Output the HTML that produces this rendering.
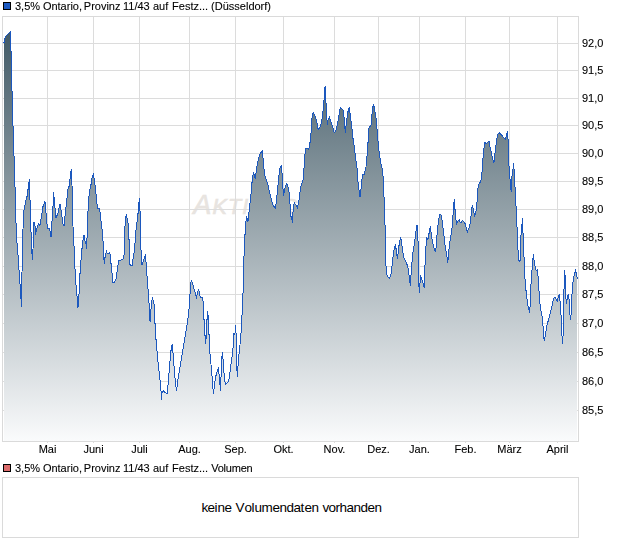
<!DOCTYPE html>
<html><head><meta charset="utf-8"><style>
html,body{margin:0;padding:0;background:#fff;width:620px;height:546px;overflow:hidden}
svg{display:block}
text{font-family:"Liberation Sans",Arial,sans-serif;font-size:11px;fill:#000}
.lb text{stroke:#000;stroke-width:0.1px}
</style></head><body>
<svg width="620" height="546" viewBox="0 0 620 546">
<defs><linearGradient id="g" gradientUnits="userSpaceOnUse" x1="0" y1="31" x2="0" y2="441">
<stop offset="0" stop-color="#425a66"/><stop offset="1" stop-color="#fafbfc"/></linearGradient></defs>
<rect x="3.5" y="2.5" width="7" height="7" fill="#1d5ac2" stroke="#000" stroke-width="1"/>
<g class="lb" style="will-change:transform"><text y="10"><tspan x="15">3,5%</tspan><tspan x="42.9">Ontario,</tspan><tspan x="83.8">Provinz</tspan><tspan x="123">11/43</tspan><tspan x="153">auf</tspan><tspan x="172.1">Festz...</tspan><tspan x="211.1">(Düsseldorf)</tspan></text></g>
<text x="193.2" y="214" style="font-style:italic;font-size:27px;fill:#e8e4e0;stroke:#e8e4e0;stroke-width:0.7px;letter-spacing:1.2px">A<tspan style="font-size:21.5px">KTIENCHECK</tspan></text>
<g stroke="#dcdcdc" stroke-width="1" shape-rendering="crispEdges"><line x1="3" y1="43.5" x2="578" y2="43.5"/><line x1="3" y1="70.5" x2="578" y2="70.5"/><line x1="3" y1="98.5" x2="578" y2="98.5"/><line x1="3" y1="125.5" x2="578" y2="125.5"/><line x1="3" y1="153.5" x2="578" y2="153.5"/><line x1="3" y1="181.5" x2="578" y2="181.5"/><line x1="3" y1="209.5" x2="578" y2="209.5"/><line x1="3" y1="237.5" x2="578" y2="237.5"/><line x1="3" y1="266.5" x2="578" y2="266.5"/><line x1="3" y1="294.5" x2="578" y2="294.5"/><line x1="3" y1="323.5" x2="578" y2="323.5"/><line x1="3" y1="352.5" x2="578" y2="352.5"/><line x1="3" y1="381.5" x2="578" y2="381.5"/><line x1="3" y1="410.5" x2="578" y2="410.5"/><line x1="47.5" y1="17" x2="47.5" y2="441"/><line x1="93.5" y1="17" x2="93.5" y2="441"/><line x1="139.5" y1="17" x2="139.5" y2="441"/><line x1="189.5" y1="17" x2="189.5" y2="441"/><line x1="235.5" y1="17" x2="235.5" y2="441"/><line x1="283.5" y1="17" x2="283.5" y2="441"/><line x1="334.5" y1="17" x2="334.5" y2="441"/><line x1="378.5" y1="17" x2="378.5" y2="441"/><line x1="419.5" y1="17" x2="419.5" y2="441"/><line x1="465.5" y1="17" x2="465.5" y2="441"/><line x1="509.5" y1="17" x2="509.5" y2="441"/><line x1="557.5" y1="17" x2="557.5" y2="441"/></g>
<polygon points="4,441 4,42.5 3,42.5 4.5,42.5 4.5,38.5 5.5,37.5 5.5,36.5 6.5,35.5 7.5,34.5 8.5,33.5 9.5,32.5 10.5,31.5 10.5,50.5 11.5,51.5 11.5,90.5 12.5,91.5 12.5,125.5 13.5,126.5 13.5,155.5 14.5,156.5 14.5,186.5 15.5,187.5 15.5,207 16.5,238 17.5,247 18.5,262 19.5,277.5 20.5,290.5 21.5,307 22.5,238 24,210 25.5,202 27,196.6 29.5,179 30.5,219.7 31.5,244 32.3,260 33,249 34,222 35,226 35.5,234.5 37,228 38.5,223.8 40,225.5 41.5,216 43,206.5 45,201.6 46,213 47.5,228.8 49,228 50.5,232 51,237 53.1,204.6 53.6,192.4 54.6,204 56,218 58,213 60,204 61.5,213 63,224 64,226 65.5,211.5 67,198 67.5,190.7 69,186.6 70,179 71.3,169 72,185 72.5,216 74,246 75,269 76,285 78,307.6 79,294.4 79.6,279.6 80.6,264.8 81.8,251.6 82.3,244 83.4,237.4 84.2,235 85,240.7 86.2,245 86.7,249 87.5,221 88.4,203.7 89.5,190.5 90.8,186 92,178 93.3,174.5 94.5,179.8 95.4,188.8 96.4,197 97.1,204.5 97.9,208.6 99,207.8 99.9,211 101,221 102,229 102.9,239 103.7,254.9 104.3,264 105.3,254.9 106.5,251.6 107.3,254 108.6,253.2 109.8,252.4 110.6,259.8 111.9,271.4 113,282.9 114.7,282 116.4,278 117.5,268 118.8,260.6 121.3,259.8 123,259 123.8,257.4 124.6,248.3 125,226 126.2,214.4 127.9,221 128.7,232.5 129.5,250 130,264.8 132,265.6 132.8,259.8 134,253.2 135.3,240.7 136.1,229 137.8,216 139.4,197.6 140.2,214.4 141,250 141.9,264.8 143.2,261.5 144.4,257.4 145.2,255.7 146,261.5 146.8,273 147.7,284.5 148.5,296 149.3,307.6 150.1,322.4 150.8,313.3 151.3,304 152.5,297.5 153.3,301.6 154.1,304 154.7,317.5 155.6,334.8 156.9,349.5 158.2,364.4 159.6,376 160.7,385.8 161.5,399.8 162,393.2 163.5,390.7 164.8,392.4 166.1,393.2 167.3,393.2 168.5,379.2 169.8,362.7 171.1,349.5 172.2,343.8 173,352.8 173.9,364.4 175,377.5 176.5,391 177.5,383 178.5,376 179.5,369.5 180.5,364 181.5,358 182.5,352 183.5,346 184.5,340.5 185.5,334.5 186.5,328 187.5,322 188.5,314 189.5,305 190.2,290 191.2,280.2 192.2,282.7 193.2,286 194.2,289.3 195.3,292.5 196.5,299 197.4,292.5 198.6,290 199.4,292.5 200.2,296.7 201.4,297.5 202.5,297.5 203.5,305 203.5,319.7 204.5,320 204.5,335 205.5,336 205.5,343.8 206.5,335 206.5,319.5 207.5,319 207.5,311 208.5,319.5 208.5,334 209.5,335 209.5,349 211,364.4 212.3,379.2 213.4,394 214.6,384 215.9,376 217.2,371 218.4,368.5 219.2,376 220.5,390.7 221.2,372.6 222.2,352 223.3,361 224.5,380.8 225.8,384 227.4,382.5 228.7,380.8 229.6,375.8 230.8,366 231.9,357.7 233.2,346 234,333 234.9,334.6 235.7,324.7 236.2,338 236.5,362.6 237.4,376.6 238.2,362.6 239.5,349.4 240.7,338 241.5,324.7 242.3,310 242.8,302 243.5,271 244.4,244.7 245.6,225 246.5,215.8 247.9,222.4 249,212.5 250.2,201 251.5,189.4 252.3,178.7 253.5,172 254.4,175.4 255.3,178.7 256.4,169.7 258.1,160.6 259.4,155.7 260.5,153.2 262.2,151.5 263,158 263.8,166.4 264.7,175.4 266.3,179.5 268,185.3 269.3,191 270.4,195.2 271.6,200 272.9,205 274.2,206.7 275.4,208.4 276.2,202.6 277.5,191 278.7,177.9 279.8,168.8 281.1,165.5 282,173 282.8,186 283.6,196 284.4,189.4 285.2,187.8 286.4,184 287.5,185 288.5,188.5 289.5,195 290.2,207 290.6,216 291.6,217.5 292.4,222.7 293,212 294.2,202.5 295.5,204.5 297.4,207.6 298.4,203.5 299.6,196 300.6,187 301.6,185 301.9,183 302.9,181.5 303.5,176 304.5,159.8 305.5,149 306.7,148.2 307.8,149 308.6,149.2 309.6,145.9 310.8,136 311.6,122.8 312.4,113.8 313.6,113 314.6,114.6 315.7,117.9 316.9,122.8 317.9,128.6 319,129.4 320.2,127 321.5,122.8 322.3,116.2 323.5,108 324.4,94 325.1,86.2 325.6,94.8 326.1,104.7 326.7,113 327.2,124.5 328.1,119.5 329.4,117 330.5,120.4 331.7,123.7 333,127.8 334.3,132.7 335.5,131 336.6,128.6 338,121.2 339.3,113 340.4,107.2 341.6,108.8 342.9,109.7 344.2,117.9 344.9,127.8 345.4,132.7 346.2,124.5 347.2,116.2 348.2,110.5 349.2,108 349.8,111.3 350.8,119.5 352,129.4 353.1,139.3 354.1,145.9 355.2,154.1 356.4,164 357.3,169.9 358.1,183 359.4,193 360.1,197 361.1,188 361.9,179.8 363.1,174 364.4,174.8 365,171.5 366,166.6 366.8,159 367.9,144.3 368.9,128.6 369.6,126.1 370.9,126.1 371.7,117.9 372.5,108.8 373.4,104.4 374.2,107.2 375,112.1 376.2,119.5 377.2,131 378.3,144.3 379.5,155.8 380.4,160 381.5,166.6 382.5,169.9 383.2,178 383.8,193 384.5,206 384.8,219.3 385.3,234 385.7,254.5 386.2,272.7 387.9,276.8 389.5,278.4 390.7,276 391.5,271.8 392.3,262.8 393.1,256.2 393.9,250.4 394.8,247.1 395.6,243.8 396.1,249.6 396.7,254.5 397.4,258.7 398.1,252.9 398.9,246.3 399.7,241.4 400.5,238 401.4,240.5 402.2,248 403.3,255.4 404.3,259.5 405.5,260.8 406.6,263.6 407.6,266 408.8,272.7 409.6,279.3 410.4,285.8 411.2,271.8 412.1,261.1 412.9,252.9 413.7,248 414.5,243 415.4,236.4 416.2,229 417,224.9 417.5,231.5 418.2,244.7 418.7,276 419.2,293.3 419.8,284.2 420.8,276.8 421.5,278.4 422.4,280.9 423.6,285.8 424.1,287.5 424.8,276 425.2,256.2 426.1,244.7 426.9,238 427.7,239.7 428.5,237.2 429.4,230.7 430.4,226.5 431,231.5 431.8,238 432.7,242.2 433.5,246.3 434.6,249.6 435.6,252 436.3,244.7 437.3,231.5 438.4,221.6 439.2,216.6 440,214 440.8,214 441.7,217.5 442.5,223.2 443.4,231.5 444.2,238 445,244.7 445.8,250.4 446.7,254.5 447.8,262.8 448.8,250.4 450,241.5 451.3,232.9 452.5,224.7 453.3,209.8 454.3,199.1 454.9,208.2 455.8,218 456.6,223.8 457.9,221.4 459.1,219.7 460.2,222.2 461.2,223 462.4,220.5 463.5,221.4 464.8,223 465.7,225.5 466.5,228.8 467.3,232.1 468.1,229.6 469.4,227.1 470.6,220.5 471.4,211.5 472.4,204.9 473.1,208.2 473.9,213.1 474.7,215.6 476,211.5 476.7,206.5 477.2,199.9 477.8,189.3 478.6,184.3 479.8,182.7 480.7,181.8 481.4,177.7 482.4,167.8 483,158 484,148 484.9,142.3 486,144 487.3,142.8 489,141.5 489.6,144.8 490.6,149.7 491.8,154.7 492.9,159.6 493.9,162.9 494.6,157.1 495.6,148 496.7,139.8 497.9,134 499.2,132.9 500.5,134 501.7,135.2 502.8,136.5 504.1,138.2 505.5,139 506.6,134.9 507.4,130.8 508.3,143.1 508.7,159.6 509.4,174 510.7,185.5 511.2,192.1 511.9,176.5 512.9,170.7 513.5,163.3 514.2,170.7 514.8,183.9 515.7,197.9 516.5,217.7 517.3,232.5 517.8,245.7 518.4,259.3 519.2,260.9 520,261.7 520.5,251 521.2,229.6 521.8,228 522.3,218 523,232.9 523.5,246 524.1,259.3 524.8,276.3 525.6,286.2 526.4,294.4 527.2,301 528.1,306.8 528.9,309.3 529.4,313 530,307.6 530.5,292.8 531.4,278 532.2,268 533,258.2 533.3,254.1 533.8,258.2 534.7,264.8 535.5,268.9 536.3,270.5 537.1,269.7 538,275.5 538.8,287.8 539.6,299.4 540.4,309 541.6,313.4 542.2,317 543.2,328 544.2,341.2 545.4,334.6 547,325 548.2,320.8 549.5,315.8 550.8,310.5 552,306 553.1,301 554.1,297.7 555.2,297.4 556.4,299.4 557.4,301 558,297.7 559.5,294 560.2,303 561.2,318 561.9,333 562.4,343.7 563.5,330 563.5,289.5 564.5,288.5 564.5,270.5 565.5,279 565.5,295 566.5,303.5 567.3,297.5 568.4,294 569.3,301 569.8,312.8 570.5,319.7 571.3,312.8 571.6,300 572.5,287 573.5,278 574.5,274 575.5,271 576.5,274 577.5,279 577,279 577,441" fill="url(#g)" stroke="none"/>
<polyline points="3,42.5 4.5,42.5 4.5,38.5 5.5,37.5 5.5,36.5 6.5,35.5 7.5,34.5 8.5,33.5 9.5,32.5 10.5,31.5 10.5,50.5 11.5,51.5 11.5,90.5 12.5,91.5 12.5,125.5 13.5,126.5 13.5,155.5 14.5,156.5 14.5,186.5 15.5,187.5 15.5,207 16.5,238 17.5,247 18.5,262 19.5,277.5 20.5,290.5 21.5,307 22.5,238 24,210 25.5,202 27,196.6 29.5,179 30.5,219.7 31.5,244 32.3,260 33,249 34,222 35,226 35.5,234.5 37,228 38.5,223.8 40,225.5 41.5,216 43,206.5 45,201.6 46,213 47.5,228.8 49,228 50.5,232 51,237 53.1,204.6 53.6,192.4 54.6,204 56,218 58,213 60,204 61.5,213 63,224 64,226 65.5,211.5 67,198 67.5,190.7 69,186.6 70,179 71.3,169 72,185 72.5,216 74,246 75,269 76,285 78,307.6 79,294.4 79.6,279.6 80.6,264.8 81.8,251.6 82.3,244 83.4,237.4 84.2,235 85,240.7 86.2,245 86.7,249 87.5,221 88.4,203.7 89.5,190.5 90.8,186 92,178 93.3,174.5 94.5,179.8 95.4,188.8 96.4,197 97.1,204.5 97.9,208.6 99,207.8 99.9,211 101,221 102,229 102.9,239 103.7,254.9 104.3,264 105.3,254.9 106.5,251.6 107.3,254 108.6,253.2 109.8,252.4 110.6,259.8 111.9,271.4 113,282.9 114.7,282 116.4,278 117.5,268 118.8,260.6 121.3,259.8 123,259 123.8,257.4 124.6,248.3 125,226 126.2,214.4 127.9,221 128.7,232.5 129.5,250 130,264.8 132,265.6 132.8,259.8 134,253.2 135.3,240.7 136.1,229 137.8,216 139.4,197.6 140.2,214.4 141,250 141.9,264.8 143.2,261.5 144.4,257.4 145.2,255.7 146,261.5 146.8,273 147.7,284.5 148.5,296 149.3,307.6 150.1,322.4 150.8,313.3 151.3,304 152.5,297.5 153.3,301.6 154.1,304 154.7,317.5 155.6,334.8 156.9,349.5 158.2,364.4 159.6,376 160.7,385.8 161.5,399.8 162,393.2 163.5,390.7 164.8,392.4 166.1,393.2 167.3,393.2 168.5,379.2 169.8,362.7 171.1,349.5 172.2,343.8 173,352.8 173.9,364.4 175,377.5 176.5,391 177.5,383 178.5,376 179.5,369.5 180.5,364 181.5,358 182.5,352 183.5,346 184.5,340.5 185.5,334.5 186.5,328 187.5,322 188.5,314 189.5,305 190.2,290 191.2,280.2 192.2,282.7 193.2,286 194.2,289.3 195.3,292.5 196.5,299 197.4,292.5 198.6,290 199.4,292.5 200.2,296.7 201.4,297.5 202.5,297.5 203.5,305 203.5,319.7 204.5,320 204.5,335 205.5,336 205.5,343.8 206.5,335 206.5,319.5 207.5,319 207.5,311 208.5,319.5 208.5,334 209.5,335 209.5,349 211,364.4 212.3,379.2 213.4,394 214.6,384 215.9,376 217.2,371 218.4,368.5 219.2,376 220.5,390.7 221.2,372.6 222.2,352 223.3,361 224.5,380.8 225.8,384 227.4,382.5 228.7,380.8 229.6,375.8 230.8,366 231.9,357.7 233.2,346 234,333 234.9,334.6 235.7,324.7 236.2,338 236.5,362.6 237.4,376.6 238.2,362.6 239.5,349.4 240.7,338 241.5,324.7 242.3,310 242.8,302 243.5,271 244.4,244.7 245.6,225 246.5,215.8 247.9,222.4 249,212.5 250.2,201 251.5,189.4 252.3,178.7 253.5,172 254.4,175.4 255.3,178.7 256.4,169.7 258.1,160.6 259.4,155.7 260.5,153.2 262.2,151.5 263,158 263.8,166.4 264.7,175.4 266.3,179.5 268,185.3 269.3,191 270.4,195.2 271.6,200 272.9,205 274.2,206.7 275.4,208.4 276.2,202.6 277.5,191 278.7,177.9 279.8,168.8 281.1,165.5 282,173 282.8,186 283.6,196 284.4,189.4 285.2,187.8 286.4,184 287.5,185 288.5,188.5 289.5,195 290.2,207 290.6,216 291.6,217.5 292.4,222.7 293,212 294.2,202.5 295.5,204.5 297.4,207.6 298.4,203.5 299.6,196 300.6,187 301.6,185 301.9,183 302.9,181.5 303.5,176 304.5,159.8 305.5,149 306.7,148.2 307.8,149 308.6,149.2 309.6,145.9 310.8,136 311.6,122.8 312.4,113.8 313.6,113 314.6,114.6 315.7,117.9 316.9,122.8 317.9,128.6 319,129.4 320.2,127 321.5,122.8 322.3,116.2 323.5,108 324.4,94 325.1,86.2 325.6,94.8 326.1,104.7 326.7,113 327.2,124.5 328.1,119.5 329.4,117 330.5,120.4 331.7,123.7 333,127.8 334.3,132.7 335.5,131 336.6,128.6 338,121.2 339.3,113 340.4,107.2 341.6,108.8 342.9,109.7 344.2,117.9 344.9,127.8 345.4,132.7 346.2,124.5 347.2,116.2 348.2,110.5 349.2,108 349.8,111.3 350.8,119.5 352,129.4 353.1,139.3 354.1,145.9 355.2,154.1 356.4,164 357.3,169.9 358.1,183 359.4,193 360.1,197 361.1,188 361.9,179.8 363.1,174 364.4,174.8 365,171.5 366,166.6 366.8,159 367.9,144.3 368.9,128.6 369.6,126.1 370.9,126.1 371.7,117.9 372.5,108.8 373.4,104.4 374.2,107.2 375,112.1 376.2,119.5 377.2,131 378.3,144.3 379.5,155.8 380.4,160 381.5,166.6 382.5,169.9 383.2,178 383.8,193 384.5,206 384.8,219.3 385.3,234 385.7,254.5 386.2,272.7 387.9,276.8 389.5,278.4 390.7,276 391.5,271.8 392.3,262.8 393.1,256.2 393.9,250.4 394.8,247.1 395.6,243.8 396.1,249.6 396.7,254.5 397.4,258.7 398.1,252.9 398.9,246.3 399.7,241.4 400.5,238 401.4,240.5 402.2,248 403.3,255.4 404.3,259.5 405.5,260.8 406.6,263.6 407.6,266 408.8,272.7 409.6,279.3 410.4,285.8 411.2,271.8 412.1,261.1 412.9,252.9 413.7,248 414.5,243 415.4,236.4 416.2,229 417,224.9 417.5,231.5 418.2,244.7 418.7,276 419.2,293.3 419.8,284.2 420.8,276.8 421.5,278.4 422.4,280.9 423.6,285.8 424.1,287.5 424.8,276 425.2,256.2 426.1,244.7 426.9,238 427.7,239.7 428.5,237.2 429.4,230.7 430.4,226.5 431,231.5 431.8,238 432.7,242.2 433.5,246.3 434.6,249.6 435.6,252 436.3,244.7 437.3,231.5 438.4,221.6 439.2,216.6 440,214 440.8,214 441.7,217.5 442.5,223.2 443.4,231.5 444.2,238 445,244.7 445.8,250.4 446.7,254.5 447.8,262.8 448.8,250.4 450,241.5 451.3,232.9 452.5,224.7 453.3,209.8 454.3,199.1 454.9,208.2 455.8,218 456.6,223.8 457.9,221.4 459.1,219.7 460.2,222.2 461.2,223 462.4,220.5 463.5,221.4 464.8,223 465.7,225.5 466.5,228.8 467.3,232.1 468.1,229.6 469.4,227.1 470.6,220.5 471.4,211.5 472.4,204.9 473.1,208.2 473.9,213.1 474.7,215.6 476,211.5 476.7,206.5 477.2,199.9 477.8,189.3 478.6,184.3 479.8,182.7 480.7,181.8 481.4,177.7 482.4,167.8 483,158 484,148 484.9,142.3 486,144 487.3,142.8 489,141.5 489.6,144.8 490.6,149.7 491.8,154.7 492.9,159.6 493.9,162.9 494.6,157.1 495.6,148 496.7,139.8 497.9,134 499.2,132.9 500.5,134 501.7,135.2 502.8,136.5 504.1,138.2 505.5,139 506.6,134.9 507.4,130.8 508.3,143.1 508.7,159.6 509.4,174 510.7,185.5 511.2,192.1 511.9,176.5 512.9,170.7 513.5,163.3 514.2,170.7 514.8,183.9 515.7,197.9 516.5,217.7 517.3,232.5 517.8,245.7 518.4,259.3 519.2,260.9 520,261.7 520.5,251 521.2,229.6 521.8,228 522.3,218 523,232.9 523.5,246 524.1,259.3 524.8,276.3 525.6,286.2 526.4,294.4 527.2,301 528.1,306.8 528.9,309.3 529.4,313 530,307.6 530.5,292.8 531.4,278 532.2,268 533,258.2 533.3,254.1 533.8,258.2 534.7,264.8 535.5,268.9 536.3,270.5 537.1,269.7 538,275.5 538.8,287.8 539.6,299.4 540.4,309 541.6,313.4 542.2,317 543.2,328 544.2,341.2 545.4,334.6 547,325 548.2,320.8 549.5,315.8 550.8,310.5 552,306 553.1,301 554.1,297.7 555.2,297.4 556.4,299.4 557.4,301 558,297.7 559.5,294 560.2,303 561.2,318 561.9,333 562.4,343.7 563.5,330 563.5,289.5 564.5,288.5 564.5,270.5 565.5,279 565.5,295 566.5,303.5 567.3,297.5 568.4,294 569.3,301 569.8,312.8 570.5,319.7 571.3,312.8 571.6,300 572.5,287 573.5,278 574.5,274 575.5,271 576.5,274 577.5,279" fill="none" stroke="#1c58be" stroke-width="1" shape-rendering="crispEdges"/>
<rect x="2.5" y="16.5" width="576" height="425" fill="none" stroke="#dadada" stroke-width="1" shape-rendering="crispEdges"/>
<g stroke="#dcdcdc" stroke-width="1" shape-rendering="crispEdges"><line x1="47.5" y1="442" x2="47.5" y2="443"/><line x1="93.5" y1="442" x2="93.5" y2="443"/><line x1="139.5" y1="442" x2="139.5" y2="443"/><line x1="189.5" y1="442" x2="189.5" y2="443"/><line x1="235.5" y1="442" x2="235.5" y2="443"/><line x1="283.5" y1="442" x2="283.5" y2="443"/><line x1="334.5" y1="442" x2="334.5" y2="443"/><line x1="378.5" y1="442" x2="378.5" y2="443"/><line x1="419.5" y1="442" x2="419.5" y2="443"/><line x1="465.5" y1="442" x2="465.5" y2="443"/><line x1="509.5" y1="442" x2="509.5" y2="443"/><line x1="557.5" y1="442" x2="557.5" y2="443"/></g>
<g class="lb" style="will-change:transform"><text x="582" y="46.5">92,0</text><text x="582" y="73.5">91,5</text><text x="582" y="101.5">91,0</text><text x="582" y="128.5">90,5</text><text x="582" y="156.5">90,0</text><text x="582" y="184.5">89,5</text><text x="582" y="212.5">89,0</text><text x="582" y="240.5">88,5</text><text x="582" y="269.5">88,0</text><text x="582" y="297.5">87,5</text><text x="582" y="326.5">87,0</text><text x="582" y="355.5">86,5</text><text x="582" y="384.5">86,0</text><text x="582" y="413.5">85,5</text>
<text x="47.5" y="453" text-anchor="middle">Mai</text><text x="93.5" y="453" text-anchor="middle">Juni</text><text x="139.5" y="453" text-anchor="middle">Juli</text><text x="189.5" y="453" text-anchor="middle">Aug.</text><text x="235.5" y="453" text-anchor="middle">Sep.</text><text x="283.5" y="453" text-anchor="middle">Okt.</text><text x="334.5" y="453" text-anchor="middle">Nov.</text><text x="378.5" y="453" text-anchor="middle">Dez.</text><text x="419.5" y="453" text-anchor="middle">Jan.</text><text x="465.5" y="453" text-anchor="middle">Feb.</text><text x="509.5" y="453" text-anchor="middle">März</text><text x="557.5" y="453" text-anchor="middle">April</text></g>
<rect x="3.5" y="464.5" width="7" height="7" fill="#dc6c6c" stroke="#000" stroke-width="1"/>
<g class="lb" style="will-change:transform"><text y="472"><tspan x="15">3,5%</tspan><tspan x="42.9">Ontario,</tspan><tspan x="83.8">Provinz</tspan><tspan x="123">11/43</tspan><tspan x="153">auf</tspan><tspan x="172.1">Festz...</tspan><tspan x="211.2" letter-spacing="-0.22">Volumen</tspan></text></g>
<rect x="2.5" y="477.5" width="576" height="60" fill="none" stroke="#dadada" stroke-width="1" shape-rendering="crispEdges"/>
<text x="201.6 207.6 214.6 217.6 224.6 231.6 235.6 244.6 251.6 254.6 261.6 272.6 279.6 286.6 293.6 300.6 304.6 311.6 318.6 322.6 328.6 335.6 339.6 346.6 353.6 360.6 367.6 374.6" y="512" style="font-size:13.5px">keine Volumendaten vorhanden</text>
</svg>
</body></html>
